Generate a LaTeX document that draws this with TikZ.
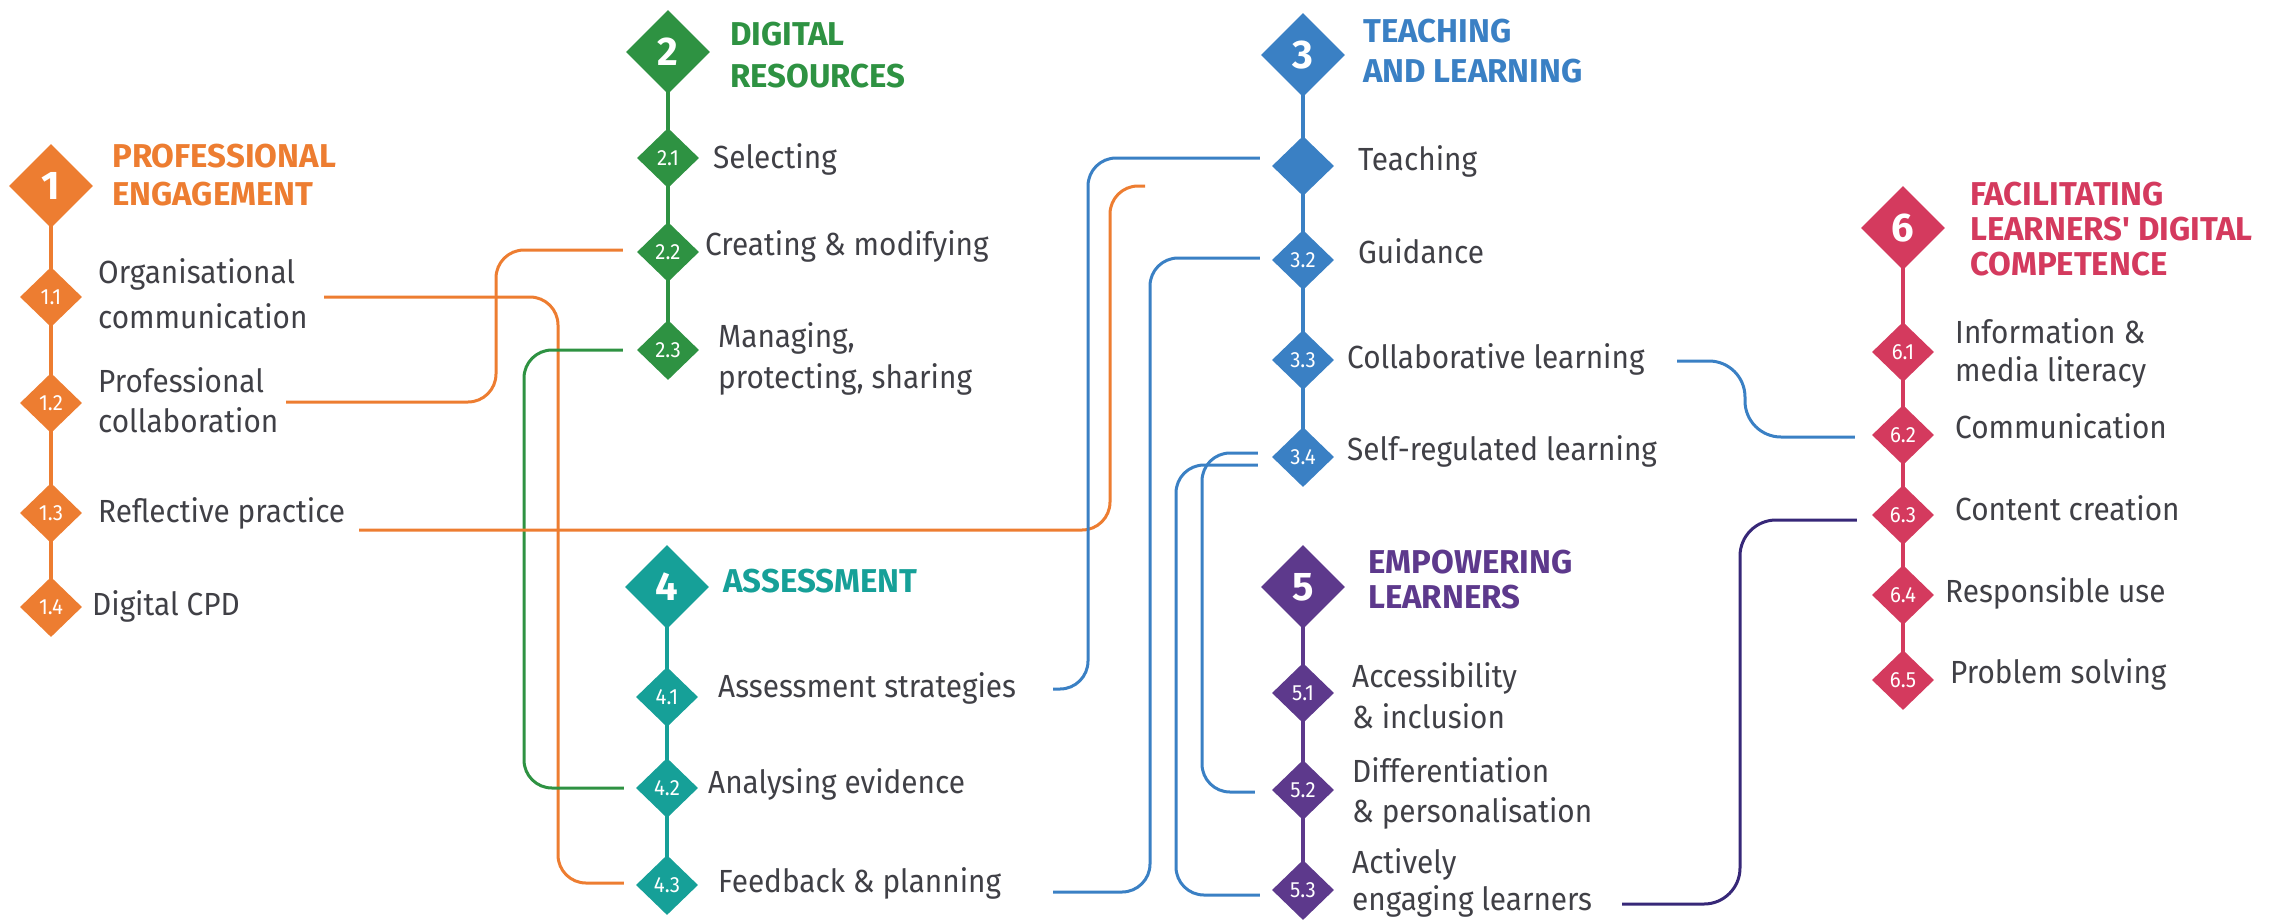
\documentclass[tikz,border=0pt]{standalone}
\usepackage{fontspec}
\setmainfont{Fira Sans}[FakeStretch=0.93, BoldFeatures={FakeStretch=1.0}]
\usetikzlibrary{shapes.geometric,backgrounds}
\definecolor{corange}{RGB}{237,125,49}
\definecolor{cgreen}{RGB}{46,146,66}
\definecolor{cblue}{RGB}{58,128,196}
\definecolor{cteal}{RGB}{22,160,152}
\definecolor{cpurple}{RGB}{93,57,140}
\definecolor{ccrimson}{RGB}{212,58,94}
\definecolor{cindigo}{RGB}{55,40,120}
\definecolor{tgray}{RGB}{64,64,70}
\tikzset{
  maind/.style={diamond, fill=#1, minimum width=84pt, minimum height=84pt, inner sep=0pt, text=white, font=\fontsize{40}{40}\selectfont\bfseries},
  subd/.style={diamond, fill=#1, minimum width=62pt, minimum height=60pt, inner sep=0pt, text=white, font=\fontsize{22}{22}\selectfont},
  cattitle/.style={anchor=base west, align=left, text=#1, font=\fontsize{33}{38}\selectfont\bfseries, inner sep=0pt},
  itm/.style={anchor=base west, align=left, text=tgray, font=\fontsize{32}{40}\selectfont, inner sep=0pt},
  spine/.style={line width=4pt},
  conn/.style={line width=3pt, rounded corners=28pt},
}
\begin{document}
\begin{tikzpicture}[x=1pt,y=-1pt]
\useasboundingbox (0,0) rectangle (2284,922);

% ---------- Column 1 : Professional engagement
\node[maind=corange] (d1) at (51,186) {1};
\node[subd=corange] (d11) at (51,297) {1.1};
\node[subd=corange] (d12) at (51,403) {1.2};
\node[subd=corange] (d13) at (51,513) {1.3};
\node[subd=corange] (d14) at (51,607) {1.4};
\node[cattitle=corange] (h1) at (112,205) {PROFESSIONAL\\ENGAGEMENT};
\node[itm] (t11) at (98,328) {Organisational\\[5pt]communication};
\node[itm] (t12) at (98,432) {Professional\\collaboration};
\node[itm] (t13) at (98,522) {Reflective practice};
\node[itm] (t14) at (92,615) {Digital CPD};

% ---------- Column 2 : Digital resources
\node[maind=cgreen] (d2) at (668,52) {2};
\node[subd=cgreen] (d21) at (668,158) {2.1};
\node[subd=cgreen] (d22) at (668,252) {2.2};
\node[subd=cgreen] (d23) at (668,350) {2.3};
\node[cattitle=cgreen] (h2) at (730,87) {DIGITAL\\[4pt]RESOURCES};
\node[itm] (t21) at (713,168) {Selecting};
\node[itm] (t22) at (705,255) {Creating \& modifying};
\node[itm] (t23) at (718,388) {Managing,\\[1pt]protecting, sharing};

% ---------- Column 4 : Assessment
\node[maind=cteal] (d4) at (667,587) {4};
\node[subd=cteal] (d41) at (667,697) {4.1};
\node[subd=cteal] (d42) at (667,788) {4.2};
\node[subd=cteal] (d43) at (667,885) {4.3};
\node[cattitle=cteal] (h4) at (723,592) {ASSESSMENT};
\node[itm] (t41) at (718,697) {Assessment strategies};
\node[itm] (t42) at (708,793) {Analysing evidence};
\node[itm] (t43) at (718,892) {Feedback \& planning};

% ---------- Column 3 : Teaching and learning
\node[maind=cblue] (d3) at (1303,55) {3};
\node[subd=cblue] (d31) at (1303,166) {};
\node[subd=cblue] (d32) at (1303,260) {3.2};
\node[subd=cblue] (d33) at (1303,360) {3.3};
\node[subd=cblue] (d34) at (1303,457) {3.4};
\node[cattitle=cblue] (h3) at (1363,82) {TEACHING\\[2pt]AND LEARNING};
\node[itm] (t31) at (1358,170) {Teaching};
\node[itm] (t32) at (1358,263) {Guidance};
\node[itm] (t33) at (1347,368) {Collaborative learning};
\node[itm] (t34) at (1347,460) {Self-regulated learning};

% ---------- Column 5 : Empowering learners
\node[maind=cpurple] (d5) at (1303,587) {5};
\node[subd=cpurple] (d51) at (1303,693) {5.1};
\node[subd=cpurple] (d52) at (1303,790) {5.2};
\node[subd=cpurple] (d53) at (1303,890) {5.3};
\node[cattitle=cpurple] (h5) at (1368,608) {EMPOWERING\\[-3pt]LEARNERS};
\node[itm] (t51) at (1352,728) {Accessibility\\[1pt]\& inclusion};
\node[itm] (t52) at (1352,822) {Differentiation\\\& personalisation};
\node[itm] (t53) at (1352,910) {Actively\\[-3pt]engaging learners};

% ---------- Column 6 : Facilitating learners' digital competence
\node[maind=ccrimson] (d6) at (1903,228) {6};
\node[subd=ccrimson] (d61) at (1903,352) {6.1};
\node[subd=ccrimson] (d62) at (1903,435) {6.2};
\node[subd=ccrimson] (d63) at (1903,515) {6.3};
\node[subd=ccrimson] (d64) at (1903,595) {6.4};
\node[subd=ccrimson] (d65) at (1903,680) {6.5};
\node[cattitle=ccrimson] (h6) at (1970,275) {FACILITATING\\[-3pt]LEARNERS\textquotesingle{} DIGITAL\\[-3pt]COMPETENCE};
\node[itm] (t61) at (1955,381) {Information \&\\[-2pt]media literacy};
\node[itm] (t62) at (1955,438) {Communication};
\node[itm] (t63) at (1955,520) {Content creation};
\node[itm] (t64) at (1945,602) {Responsible use};
\node[itm] (t65) at (1950,683) {Problem solving};

% ---------- spines
\begin{scope}[on background layer]
\draw[spine,corange] (d1.center) -- (d14.center);
\draw[spine,cgreen] (d2.center) -- (d23.center);
\draw[spine,cteal] (d4.center) -- (d43.center);
\draw[spine,cblue] (d3.center) -- (d34.center);
\draw[spine,cpurple] (d5.center) -- (d53.center);
\draw[spine,ccrimson] (d6.center) -- (d65.center);
\end{scope}

% ---------- connector end points
\coordinate (c11) at (324,297);
\coordinate (c12) at (286,402);
\coordinate (c13) at (359,530);
\coordinate (o13) at (1145,186);
\coordinate (c41) at (1053,689);
\coordinate (c43) at (1053,892);
\coordinate (c33) at (1677,361);
\coordinate (c53) at (1622,904);
\coordinate (e22) at ([shift={(-14,-2)}]d22.west);
\coordinate (e23) at ([shift={(-14,0)}]d23.west);
\coordinate (e42) at ([shift={(-12,0)}]d42.west);
\coordinate (e43) at ([shift={(-12,-2)}]d43.west);
\coordinate (e31) at ([shift={(-12,-8)}]d31.west);
\coordinate (e32) at ([shift={(-12,-2)}]d32.west);
\coordinate (e34a) at ([shift={(-14,-4)}]d34.west);
\coordinate (e34b) at ([shift={(-14,8)}]d34.west);
\coordinate (e52) at ([shift={(-17,2)}]d52.west);
\coordinate (e53) at ([shift={(-12,5)}]d53.west);
\coordinate (e62) at ([shift={(-17,2)}]d62.west);
\coordinate (e63) at ([shift={(-15,5)}]d63.west);
% vertical runs
\coordinate (v1) at (558,0);
\coordinate (v2) at (496,0);
\coordinate (v3) at (524,0);
\coordinate (v4) at (1110,0);
\coordinate (v5) at (1088,0);
\coordinate (v6) at (1150,0);
\coordinate (v7) at (1202,0);
\coordinate (v8) at (1176,0);
\coordinate (v9) at (1745,0);
\coordinate (v10) at (1740,0);

% ---------- connectors
\draw[conn,corange] (c11) -- (c11 -| v1) |- (e43);
\draw[conn,corange] (c12) -- (c12 -| v2) |- (e22);
\draw[conn,cgreen] (e23) -- (e23 -| v3) |- (e42);
\draw[conn,corange] (c13) -- (c13 -| v4) |- (o13);
\draw[conn,cblue] (c41) -- (c41 -| v5) |- (e31);
\draw[conn,cblue] (c43) -- (c43 -| v6) |- (e32);
\draw[conn,cblue] (e34a) -- (e34a -| v7) |- (e52);
\draw[conn,cblue] (e34b) -- (e34b -| v8) |- (e53);
\draw[conn,cblue,rounded corners=36pt] (c33) -- (c33 -| v9) |- (e62);
\draw[conn,cindigo,rounded corners=36pt] (c53) -- (c53 -| v10) |- (e63);
\end{tikzpicture}
\end{document}
